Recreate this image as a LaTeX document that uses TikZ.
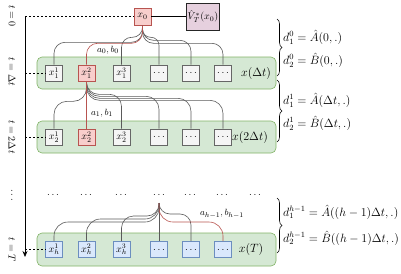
\documentclass[tikz,border=0pt]{standalone}
\usetikzlibrary{decorations.pathreplacing,arrows.meta}
\definecolor{gfill}{HTML}{F5F5F5}
\definecolor{gline}{HTML}{666666}
\definecolor{rfill}{HTML}{F8CECC}
\definecolor{rline}{HTML}{B85450}
\definecolor{bfill}{HTML}{DAE8FC}
\definecolor{bline}{HTML}{6C8EBF}
\definecolor{grfill}{HTML}{D5E8D4}
\definecolor{grline}{HTML}{82B366}
\definecolor{vfill}{HTML}{E6D0DE}
\definecolor{cline}{HTML}{5A5A5A}
\begin{document}
\begin{tikzpicture}[x=1pt,y=-1pt,font=\fontsize{10}{12}\selectfont,
  cell/.style={minimum width=17pt,minimum height=16pt,inner sep=1pt,line width=0.6pt},
  gcell/.style={cell,fill=gfill,draw=gline},
  rcell/.style={cell,fill=rfill,draw=rline},
  bcell/.style={cell,fill=bfill,draw=bline},
  band/.style={fill=grfill,draw=grline,rounded corners=5pt,line width=0.6pt,minimum width=239pt,inner sep=0pt},
  conn/.style={draw=cline,line width=0.6pt,rounded corners=11pt},
  rconn/.style={conn,draw=rline},
  big/.style={font=\fontsize{11.8}{14}\selectfont},
  lab/.style={font=\fontsize{9.5}{11}\selectfont,inner sep=1pt},
  guide/.style={line width=0.6pt,dash pattern=on 2pt off 2pt},
  brc/.style={decorate,decoration={brace,amplitude=5pt},line width=0.6pt},
  axlab/.style={rotate=-90,inner sep=1pt}]
\useasboundingbox (0,0) rectangle (401,273);

% bands
\node[band,minimum height=32pt] (band1) at (156.5,73) {};
\node[band,minimum height=32pt] (band2) at (156.5,137) {};
\node[band,minimum height=33pt] (bandh) at (156.5,249.5) {};

% top
\node[rcell,minimum height=17pt] (x0) at (142.5,16.5) {$x_0$};
\node[cell,fill=vfill,draw=black!85,minimum width=28pt,minimum height=27pt] (V) at (203,16.5) {$\hat{V}^*_T(x_0)$};
\draw[line width=0.6pt] (x0.east) -- (V.west);

% row 1
\node[gcell] (a1) at (54,73) {$x_1^1$};
\node[rcell] (a2) at (86.5,73) {$x_1^2$};
\node[gcell] (a3) at (121.5,73) {$x_1^3$};
\node[gcell] (a4) at (159,73) {$\dots$};
\node[gcell] (a5) at (191,73) {$\dots$};
\node[gcell] (a6) at (223,73) {$\dots$};
\node[big] (l1) at (256,73) {$x(\Delta t)$};

% row 2
\node[gcell] (b1) at (54,137) {$x_2^1$};
\node[rcell] (b2) at (86.5,137) {$x_2^2$};
\node[gcell] (b3) at (121.5,137) {$x_2^3$};
\node[gcell] (b4) at (159,137) {$\dots$};
\node[gcell] (b5) at (191,137) {$\dots$};
\node[gcell] (b6) at (223,137) {$\dots$};
\node[big] (l2) at (250,137) {$x(2\Delta t)$};

% dots row
\foreach \i/\xx in {1/53,2/86,3/121,4/159,5/190,6/222,7/255}
  \node (d\i) at (\xx,195) {$\dots$};
\coordinate (fh) at (159,203);

% row h
\node[bcell] (h1) at (54,249.5) {$x_h^1$};
\node[bcell] (h2) at (86.5,249.5) {$x_h^2$};
\node[bcell] (h3) at (121.5,249.5) {$x_h^3$};
\node[bcell] (h4) at (159,249.5) {$\dots$};
\node[bcell] (h5) at (191,249.5) {$\dots$};
\node[bcell] (h6) at (223,249.5) {$\dots$};
\node[big] (lh) at (251,249.5) {$x(T)$};

% connectors row 0 -> 1
\draw[conn] (x0.south) -- ++(0,17) -| (a1.north);
\draw[conn,rounded corners=10pt] (x0.south) -- ++(0,12) -| (a3.north);
\draw[conn,rounded corners=8pt] (x0.south) -- ++(0,12) -| (a4.north);
\draw[conn] (x0.south) -- ++(0,15) -| (a5.north);
\draw[conn] (x0.south) -- ++(0,18) -| (a6.north);
\draw[rconn] (x0.south) -- ++(0,18) -| (a2.north);
\node[lab] (lab0) at (108,50) {$a_0,b_0$};

% connectors row 1 -> 2
\draw[conn,rounded corners=13pt] (a2.south) -- ++(0,20) -| (b1.north);
\draw[conn,rounded corners=12pt] (a2.south) -- ++(0,13) -| (b3.north);
\draw[conn,rounded corners=13pt] (a2.south) -- ++(0,15) -| (b4.north);
\draw[conn,rounded corners=13pt] (a2.south) -- ++(0,17) -| (b5.north);
\draw[conn,rounded corners=13pt] (a2.south) -- ++(0,19) -| (b6.north);
\draw[rconn] (a2.south) -- (b2.north);
\node[lab] (lab1) at (102,113) {$a_1,b_1$};

% connectors dots -> row h
\draw[conn,rounded corners=14pt] (fh) -- ++(0,19) -| (h1.north);
\draw[conn,rounded corners=14pt] (fh) -- ++(0,16) -| (h2.north);
\draw[conn,rounded corners=12pt] (fh) -- ++(0,13) -| (h3.north);
\draw[conn] (fh) -- (h4.north);
\draw[conn] (fh) -- ++(0,11) -| (h5.north);
\draw[rconn,rounded corners=14pt] (fh) -- ++(0,19) -| (h6.north);
\node[lab] (labh) at (222,214) {$a_{h-1},b_{h-1}$};

% time axis
\coordinate (ax0) at (25,16.5);
\coordinate (ax1) at (25,257);
\draw[line width=0.7pt,-{Stealth[length=6pt,width=5pt]}] (ax0) -- (ax1);
\draw[guide] (ax0) -- (x0.west);
\draw[guide] (a1.west -| ax0) -- (a1.west);
\draw[guide] (b1.west -| ax0) -- (b1.west);
\draw[guide] (h1.west -| ax0) -- (h1.west);
\node[axlab] (t0) at (12,16) {$t=0$};
\node[axlab] (t1) at (12,72) {$t=\Delta t$};
\node[axlab] (t2) at (12,137) {$t=2\Delta t$};
\node[axlab] (td) at (12,195) {$\dots$};
\node[axlab] (tT) at (12,250) {$t=T$};

% braces and equations
\draw[brc] (277,19) -- (277,76);
\draw[brc] (277,80) -- (277,142);
\draw[brc] (277,198) -- (277,253);
\node[big,anchor=west,inner sep=1pt] (e10) at (282,37) {$d_1^0=\hat{A}(0,.)$};
\node[big,anchor=west,inner sep=1pt] (e20) at (282,60) {$d_2^0=\hat{B}(0,.)$};
\node[big,anchor=west,inner sep=1pt] (e11) at (282,100) {$d_1^1=\hat{A}(\Delta t,.)$};
\node[big,anchor=west,inner sep=1pt] (e21) at (282,123) {$d_2^1=\hat{B}(\Delta t,.)$};
\node[big,anchor=west,inner sep=1pt] (e1h) at (282,212) {$d_1^{h-1}=\hat{A}((h-1)\Delta t,.)$};
\node[big,anchor=west,inner sep=1pt] (e2h) at (282,238) {$d_2^{h-1}=\hat{B}((h-1)\Delta t,.)$};
\end{tikzpicture}
\end{document}
